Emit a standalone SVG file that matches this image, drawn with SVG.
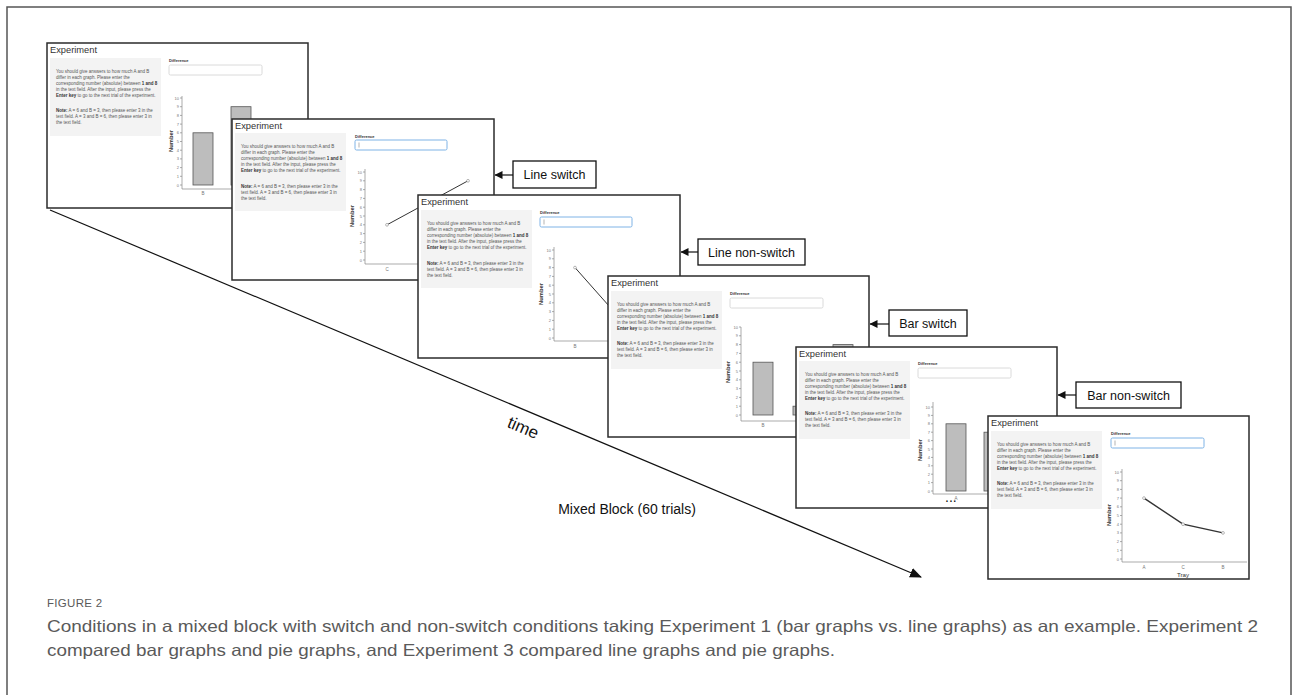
<svg xmlns="http://www.w3.org/2000/svg" width="1293" height="695" viewBox="0 0 1293 695">
<defs>
<style>
.scr{fill:#fff;stroke:#2b2b2b;stroke-width:1.5}
.ttl{font-family:"Liberation Sans",Arial,sans-serif;font-size:9.3px;fill:#333}
.pnl{fill:#f3f3f3}
.ins{font-family:"Liberation Sans",Arial,sans-serif;font-size:4.5px;fill:#555}
.b{font-weight:bold;fill:#333}
.dif{font-family:"Liberation Sans",Arial,sans-serif;font-size:4px;font-weight:bold;fill:#333}
.inp{fill:#fff;stroke:#d0d0d0;stroke-width:0.8}
.inpb{fill:#fff;stroke:#7eb3e6;stroke-width:1}
.cur{stroke:#666;stroke-width:0.5}
.ax{fill:none;stroke:#888;stroke-width:0.7}
.tk{font-family:"Liberation Sans",Arial,sans-serif;font-size:4px;fill:#777;text-anchor:end}
.cat{font-family:"Liberation Sans",Arial,sans-serif;font-size:4.5px;fill:#777;text-anchor:middle}
.num{font-family:"Liberation Sans",Arial,sans-serif;font-size:5.8px;font-weight:bold;fill:#333;text-anchor:middle}
.bar{fill:#bdbdbd;stroke:#555;stroke-width:0.8}
.ln{fill:none;stroke:#333;stroke-width:1}
.pt{fill:#fff;stroke:#888;stroke-width:0.6}
.cbox{fill:#fff;stroke:#111;stroke-width:1.3}
.ctxt{font-family:"Liberation Sans",Arial,sans-serif;font-size:12.5px;fill:#111;text-anchor:middle}
.conn{fill:none;stroke:#111;stroke-width:1.2}
.cap{font-family:"Liberation Sans",Arial,sans-serif;fill:#5a5a5a}
</style>
<marker id="ah" markerUnits="userSpaceOnUse" markerWidth="8" markerHeight="8" refX="7.5" refY="4" orient="auto">
<path d="M0,0 L8,4 L0,8 z" fill="#111"/>
</marker>
<marker id="ahT" markerUnits="userSpaceOnUse" markerWidth="12" markerHeight="10" refX="11" refY="5" orient="auto">
<path d="M0,0 L12,5 L0,10 z" fill="#111"/>
</marker>
</defs>
<rect width="1293" height="695" fill="#fff"/>
<path d="M7,700 V7 H1291 V700" fill="none" stroke="#555" stroke-width="1.5"/>

<g id="connectors">
<line class="conn" x1="50" y1="210" x2="921" y2="577" marker-end="url(#ahT)"/>
<line class="conn" x1="513" y1="175" x2="495" y2="175" marker-end="url(#ah)"/>
<line class="conn" x1="698" y1="252" x2="681" y2="252" marker-end="url(#ah)"/>
<line class="conn" x1="889" y1="324" x2="870" y2="324" marker-end="url(#ah)"/>
<line class="conn" x1="1076" y1="395" x2="1058" y2="395" marker-end="url(#ah)"/>
</g>

<g id="screen1" transform="translate(47,43)">
<rect class="scr" width="261" height="165"/>
<text class="ttl" x="3" y="10">Experiment</text>
<rect class="pnl" x="3" y="15" width="111" height="78"/>
<text class="ins" x="9" y="30">You should give answers to how much A and B</text>
<text class="ins" x="9" y="36">differ in each graph. Please enter the</text>
<text class="ins" x="9" y="42">corresponding number (absolute) between <tspan class="b">1 and 8</tspan></text>
<text class="ins" x="9" y="48">in the text field. After the input, please press the</text>
<text class="ins" x="9" y="54"><tspan class="b">Enter key</tspan> to go to the next trial of the experiment.</text>
<text class="ins" x="9" y="69"><tspan class="b">Note:</tspan> A = 6 and B = 3, then please enter 3 in the</text>
<text class="ins" x="9" y="75">text field. A = 3 and B = 6, then please enter 3 in</text>
<text class="ins" x="9" y="81">the text field.</text>
<text class="dif" x="122" y="19">Difference</text>
<rect class="inp" x="122" y="22" width="93" height="10" rx="1.5"/>
<path class="ax" d="M135,53 V146 H259 M133,142 H135 M133,133.3 H135 M133,124.6 H135 M133,115.9 H135 M133,107.2 H135 M133,98.5 H135 M133,89.8 H135 M133,81.1 H135 M133,72.4 H135 M133,63.7 H135 M133,55 H135"/>
<text class="tk"><tspan x="132" y="143.5">0</tspan><tspan x="132" y="134.8">1</tspan><tspan x="132" y="126.1">2</tspan><tspan x="132" y="117.4">3</tspan><tspan x="132" y="108.7">4</tspan><tspan x="132" y="100">5</tspan><tspan x="132" y="91.3">6</tspan><tspan x="132" y="82.6">7</tspan><tspan x="132" y="73.9">8</tspan><tspan x="132" y="65.2">9</tspan><tspan x="132" y="56.5">10</tspan></text>
<text class="num" transform="translate(126,98) rotate(-90)">Number</text>
<rect class="bar" x="146" y="89.8" width="20" height="52.2"/>
<rect class="bar" x="184" y="63.7" width="20" height="78.3"/>
<text class="cat" x="156" y="152">B</text>
</g>

<g id="screen2" transform="translate(232,119)">
<rect class="scr" width="262" height="161"/>
<text class="ttl" x="3" y="9.5">Experiment</text>
<rect class="pnl" x="3" y="14" width="111" height="78"/>
<text class="ins" x="9" y="29">You should give answers to how much A and B</text>
<text class="ins" x="9" y="35">differ in each graph. Please enter the</text>
<text class="ins" x="9" y="41">corresponding number (absolute) between <tspan class="b">1 and 8</tspan></text>
<text class="ins" x="9" y="47">in the text field. After the input, please press the</text>
<text class="ins" x="9" y="53"><tspan class="b">Enter key</tspan> to go to the next trial of the experiment.</text>
<text class="ins" x="9" y="69"><tspan class="b">Note:</tspan> A = 6 and B = 3, then please enter 3 in the</text>
<text class="ins" x="9" y="75">text field. A = 3 and B = 6, then please enter 3 in</text>
<text class="ins" x="9" y="81">the text field.</text>
<text class="dif" x="123" y="18.5">Difference</text>
<rect class="inpb" x="123" y="21" width="92" height="10" rx="1.5"/>
<line class="cur" x1="127" y1="23.5" x2="127" y2="28.5"/>
<path class="ax" d="M133,50 V145 H259 M131,141 H133 M131,132.2 H133 M131,123.4 H133 M131,114.6 H133 M131,105.8 H133 M131,97 H133 M131,88.2 H133 M131,79.4 H133 M131,70.6 H133 M131,61.8 H133 M131,53 H133"/>
<text class="tk"><tspan x="130" y="142.5">0</tspan><tspan x="130" y="133.7">1</tspan><tspan x="130" y="124.9">2</tspan><tspan x="130" y="116.1">3</tspan><tspan x="130" y="107.3">4</tspan><tspan x="130" y="98.5">5</tspan><tspan x="130" y="89.7">6</tspan><tspan x="130" y="80.9">7</tspan><tspan x="130" y="72.1">8</tspan><tspan x="130" y="63.3">9</tspan><tspan x="130" y="54.5">10</tspan></text>
<text class="num" transform="translate(122,97) rotate(-90)">Number</text>
<polyline class="ln" points="155,105.8 236,61.8"/>
<circle class="pt" cx="155" cy="105.8" r="1.4"/>
<circle class="pt" cx="236" cy="61.8" r="1.4"/>
<text class="cat" x="155" y="151.5">C</text>
</g>

<g id="screen3" transform="translate(418,195)">
<rect class="scr" width="262" height="163"/>
<text class="ttl" x="3" y="9.5">Experiment</text>
<rect class="pnl" x="3" y="15" width="111" height="78"/>
<text class="ins" x="9" y="30">You should give answers to how much A and B</text>
<text class="ins" x="9" y="36">differ in each graph. Please enter the</text>
<text class="ins" x="9" y="42">corresponding number (absolute) between <tspan class="b">1 and 8</tspan></text>
<text class="ins" x="9" y="48">in the text field. After the input, please press the</text>
<text class="ins" x="9" y="54"><tspan class="b">Enter key</tspan> to go to the next trial of the experiment.</text>
<text class="ins" x="9" y="70"><tspan class="b">Note:</tspan> A = 6 and B = 3, then please enter 3 in the</text>
<text class="ins" x="9" y="76">text field. A = 3 and B = 6, then please enter 3 in</text>
<text class="ins" x="9" y="82">the text field.</text>
<text class="dif" x="122" y="19">Difference</text>
<rect class="inpb" x="122" y="22" width="92" height="10" rx="1.5"/>
<line class="cur" x1="126" y1="24.5" x2="126" y2="29.5"/>
<path class="ax" d="M136,52 V146 H259 M134,143 H136 M134,134.2 H136 M134,125.4 H136 M134,116.6 H136 M134,107.8 H136 M134,99 H136 M134,90.2 H136 M134,81.4 H136 M134,72.6 H136 M134,63.8 H136 M134,55 H136"/>
<text class="tk"><tspan x="133" y="144.5">0</tspan><tspan x="133" y="135.7">1</tspan><tspan x="133" y="126.9">2</tspan><tspan x="133" y="118.1">3</tspan><tspan x="133" y="109.3">4</tspan><tspan x="133" y="100.5">5</tspan><tspan x="133" y="91.7">6</tspan><tspan x="133" y="82.9">7</tspan><tspan x="133" y="74.1">8</tspan><tspan x="133" y="65.3">9</tspan><tspan x="133" y="56.5">10</tspan></text>
<text class="num" transform="translate(125,99) rotate(-90)">Number</text>
<polyline class="ln" points="157,72.6 196,116.6"/>
<circle class="pt" cx="157" cy="72.6" r="1.4"/>
<text class="cat" x="157" y="153">B</text>
</g>

<g id="screen4" transform="translate(608,276)">
<rect class="scr" width="261" height="161"/>
<text class="ttl" x="3" y="10">Experiment</text>
<rect class="pnl" x="3" y="15" width="111" height="78"/>
<text class="ins" x="9" y="30">You should give answers to how much A and B</text>
<text class="ins" x="9" y="36">differ in each graph. Please enter the</text>
<text class="ins" x="9" y="42">corresponding number (absolute) between <tspan class="b">1 and 8</tspan></text>
<text class="ins" x="9" y="48">in the text field. After the input, please press the</text>
<text class="ins" x="9" y="54"><tspan class="b">Enter key</tspan> to go to the next trial of the experiment.</text>
<text class="ins" x="9" y="69"><tspan class="b">Note:</tspan> A = 6 and B = 3, then please enter 3 in the</text>
<text class="ins" x="9" y="75">text field. A = 3 and B = 6, then please enter 3 in</text>
<text class="ins" x="9" y="81">the text field.</text>
<text class="dif" x="122" y="19">Difference</text>
<rect class="inp" x="122" y="22" width="93" height="10" rx="1.5"/>
<path class="ax" d="M133,51 V145 H259 M131,139 H133 M131,130.2 H133 M131,121.4 H133 M131,112.6 H133 M131,103.8 H133 M131,95 H133 M131,86.2 H133 M131,77.4 H133 M131,68.6 H133 M131,59.8 H133 M131,51 H133"/>
<text class="tk"><tspan x="130" y="140.5">0</tspan><tspan x="130" y="131.7">1</tspan><tspan x="130" y="122.9">2</tspan><tspan x="130" y="114.1">3</tspan><tspan x="130" y="105.3">4</tspan><tspan x="130" y="96.5">5</tspan><tspan x="130" y="87.7">6</tspan><tspan x="130" y="78.9">7</tspan><tspan x="130" y="70.1">8</tspan><tspan x="130" y="61.3">9</tspan><tspan x="130" y="52.5">10</tspan></text>
<text class="num" transform="translate(122,96) rotate(-90)">Number</text>
<rect class="bar" x="145" y="86.2" width="20" height="52.8"/>
<rect class="bar" x="185" y="130.2" width="20" height="8.8"/>
<rect class="bar" x="225" y="68.6" width="20" height="70.4"/>
<text class="cat" x="155" y="151">B</text>
</g>

<g id="screen5" transform="translate(796,347)">
<rect class="scr" width="261" height="161"/>
<text class="ttl" x="3" y="9.5">Experiment</text>
<rect class="pnl" x="3" y="14" width="111" height="78"/>
<text class="ins" x="9" y="29">You should give answers to how much A and B</text>
<text class="ins" x="9" y="35">differ in each graph. Please enter the</text>
<text class="ins" x="9" y="41">corresponding number (absolute) between <tspan class="b">1 and 8</tspan></text>
<text class="ins" x="9" y="47">in the text field. After the input, please press the</text>
<text class="ins" x="9" y="53"><tspan class="b">Enter key</tspan> to go to the next trial of the experiment.</text>
<text class="ins" x="9" y="68"><tspan class="b">Note:</tspan> A = 6 and B = 3, then please enter 3 in the</text>
<text class="ins" x="9" y="74">text field. A = 3 and B = 6, then please enter 3 in</text>
<text class="ins" x="9" y="80">the text field.</text>
<text class="dif" x="122" y="18">Difference</text>
<rect class="inp" x="122" y="21" width="93" height="10" rx="1.5"/>
<path class="ax" d="M137,55 V147 H259 M135,144 H137 M135,135.6 H137 M135,127.2 H137 M135,118.8 H137 M135,110.4 H137 M135,102 H137 M135,93.6 H137 M135,85.2 H137 M135,76.8 H137 M135,68.4 H137 M135,60 H137"/>
<text class="tk"><tspan x="134" y="145.5">0</tspan><tspan x="134" y="137.1">1</tspan><tspan x="134" y="128.7">2</tspan><tspan x="134" y="120.3">3</tspan><tspan x="134" y="111.9">4</tspan><tspan x="134" y="103.5">5</tspan><tspan x="134" y="95.1">6</tspan><tspan x="134" y="86.7">7</tspan><tspan x="134" y="78.3">8</tspan><tspan x="134" y="69.9">9</tspan><tspan x="134" y="61.5">10</tspan></text>
<text class="num" transform="translate(126,103) rotate(-90)">Number</text>
<rect class="bar" x="150" y="76.8" width="20" height="67.2"/>
<rect class="bar" x="188" y="85.2" width="20" height="58.8"/>
<text class="cat" x="160" y="153">A</text>
</g>

<g id="screen6" transform="translate(988,416)">
<rect class="scr" width="261" height="163"/>
<text class="ttl" x="3" y="10">Experiment</text>
<rect class="pnl" x="3" y="15" width="111" height="78"/>
<text class="ins" x="9" y="30">You should give answers to how much A and B</text>
<text class="ins" x="9" y="36">differ in each graph. Please enter the</text>
<text class="ins" x="9" y="42">corresponding number (absolute) between <tspan class="b">1 and 8</tspan></text>
<text class="ins" x="9" y="48">in the text field. After the input, please press the</text>
<text class="ins" x="9" y="54"><tspan class="b">Enter key</tspan> to go to the next trial of the experiment.</text>
<text class="ins" x="9" y="69"><tspan class="b">Note:</tspan> A = 6 and B = 3, then please enter 3 in the</text>
<text class="ins" x="9" y="75">text field. A = 3 and B = 6, then please enter 3 in</text>
<text class="ins" x="9" y="81">the text field.</text>
<text class="dif" x="123" y="19">Difference</text>
<rect class="inpb" x="123" y="22" width="93" height="10" rx="1.5"/>
<line class="cur" x1="127" y1="24.5" x2="127" y2="29.5"/>
<path class="ax" d="M134,53 V146 H259 M132,143 H134 M132,134.3 H134 M132,125.6 H134 M132,116.9 H134 M132,108.2 H134 M132,99.5 H134 M132,90.8 H134 M132,82.1 H134 M132,73.4 H134 M132,64.7 H134 M132,56 H134"/>
<text class="tk"><tspan x="131" y="144.5">0</tspan><tspan x="131" y="135.8">1</tspan><tspan x="131" y="127.1">2</tspan><tspan x="131" y="118.4">3</tspan><tspan x="131" y="109.7">4</tspan><tspan x="131" y="101">5</tspan><tspan x="131" y="92.3">6</tspan><tspan x="131" y="83.6">7</tspan><tspan x="131" y="74.9">8</tspan><tspan x="131" y="66.2">9</tspan><tspan x="131" y="57.5">10</tspan></text>
<text class="num" transform="translate(123,99) rotate(-90)">Number</text>
<polyline class="ln" style="stroke-width:1.4" points="156,82.1 195,108.2 235,116.9"/>
<circle class="pt" cx="156" cy="82.1" r="1.4"/>
<circle class="pt" cx="195" cy="108.2" r="1.4"/>
<circle class="pt" cx="235" cy="116.9" r="1.4"/>
<text class="cat" x="156" y="153">A</text>
<text class="cat" x="195" y="153">C</text>
<text class="cat" x="235" y="153">B</text>
<text class="num" style="font-weight:normal;font-size:6.2px" x="195" y="161">Tray</text>
</g>

<g id="label-line-switch">
<rect class="cbox" x="513" y="161" width="83" height="27"/>
<text class="ctxt" x="554.5" y="179">Line switch</text>
</g>
<g id="label-line-nonswitch">
<rect class="cbox" x="698" y="239" width="107" height="26"/>
<text class="ctxt" x="751.5" y="256.5">Line non-switch</text>
</g>
<g id="label-bar-switch">
<rect class="cbox" x="889" y="310" width="78" height="26"/>
<text class="ctxt" x="928" y="327.5">Bar switch</text>
</g>
<g id="label-bar-nonswitch">
<rect class="cbox" x="1076" y="382" width="105" height="26"/>
<text class="ctxt" x="1128.5" y="399.5">Bar non-switch</text>
</g>

<g id="time-label">
<text font-family="'Liberation Sans',Arial,sans-serif" font-size="17" fill="#111" text-anchor="middle" transform="translate(521,433) rotate(23)">time</text>
</g>
<g id="block-label">
<text font-family="'Liberation Sans',Arial,sans-serif" font-size="14" fill="#111" text-anchor="middle" x="627" y="514">Mixed Block (60 trials)</text>
</g>
<g id="ellipsis">
<text font-family="'Liberation Sans',Arial,sans-serif" font-size="14" fill="#111" x="945" y="502">...</text>
</g>

<g id="caption">
<text class="cap" x="47" y="607" font-size="11.5" letter-spacing="0.3">FIGURE 2</text>
<text class="cap" x="47" y="632" font-size="16.5" textLength="1211" lengthAdjust="spacingAndGlyphs">Conditions in a mixed block with switch and non-switch conditions taking Experiment 1 (bar graphs vs. line graphs) as an example. Experiment 2</text>
<text class="cap" x="47" y="656" font-size="16.5" textLength="788" lengthAdjust="spacingAndGlyphs">compared bar graphs and pie graphs, and Experiment 3 compared line graphs and pie graphs.</text>
</g>
</svg>
